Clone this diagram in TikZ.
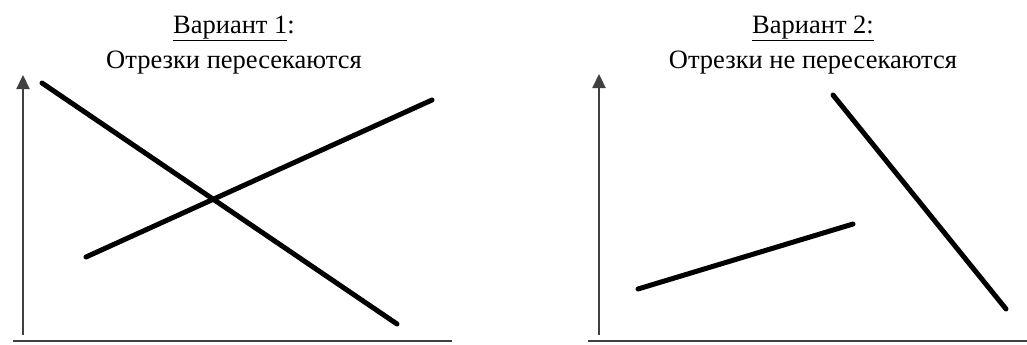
\documentclass[tikz,border=0pt]{standalone}
\usepackage{fontspec}
\setmainfont{Liberation Serif}
\usepackage{tikz}
\usetikzlibrary{arrows.meta,positioning,calc}

\tikzset{
  axis/.style={line width=2.2pt, draw=black!75},
  yaxis/.style={axis, -{Triangle[width=13pt,length=14pt]}},
  segment/.style={line width=5pt, line cap=round},
  title/.style={font=\fontsize{26.5}{35}\selectfont, align=center, inner sep=0pt}
}

\begin{document}
\begin{tikzpicture}[x=1pt, y=-1pt]
    \useasboundingbox (0,0) rectangle (1027,345);

    % Variant 1
    \node[title] (t1) at (234,45) {\underline{Вариант 1}:\\Отрезки пересекаются};
    \coordinate (o1) at (23,335);
    \coordinate (y1) at (23,75);
    \coordinate (xa1) at (13,341);
    \coordinate (xb1) at (452,341);
    \draw[axis] (xa1) -- (xb1);
    \draw[yaxis] (o1) -- (y1);
    \coordinate (a1) at (42,83);
    \coordinate (b1) at (397,324);
    \coordinate (c1) at (86,257);
    \coordinate (d1) at (432,100);
    \draw[segment] (a1) -- (b1);
    \draw[segment] (c1) -- (d1);

    % Variant 2
    \node[title] (t2) at (813,45) {\underline{Вариант 2:}\\Отрезки не пересекаются};
    \coordinate (o2) at (599,335);
    \coordinate (y2) at (599,74);
    \coordinate (xa2) at (588,341);
    \coordinate (xb2) at (1027,341);
    \draw[axis] (xa2) -- (xb2);
    \draw[yaxis] (o2) -- (y2);
    \coordinate (a2) at (638,289);
    \coordinate (b2) at (853,224);
    \coordinate (c2) at (833,95);
    \coordinate (d2) at (1006,309);
    \draw[segment] (a2) -- (b2);
    \draw[segment] (c2) -- (d2);
\end{tikzpicture}
\end{document}
